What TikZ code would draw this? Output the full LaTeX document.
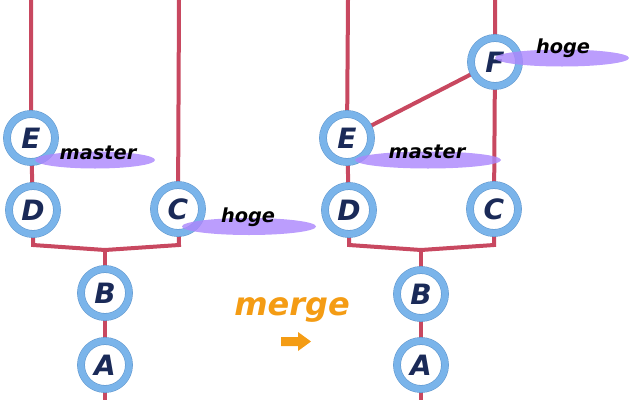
\documentclass[tikz,border=0pt]{standalone}
\usepackage{fontspec}
\usepackage{xcolor}
\usepackage{tikz}
\usetikzlibrary{backgrounds}
\newfontfamily\gitfont{DejaVu Sans}
\definecolor{branchred}{RGB}{200,72,96}
\definecolor{ringblue}{RGB}{122,180,234}
\definecolor{ringedge}{RGB}{95,150,205}
\definecolor{letterblue}{RGB}{26,42,88}
\definecolor{tagpurple}{RGB}{172,136,252}
\definecolor{mergeorange}{RGB}{244,156,20}

\begin{document}
\begin{tikzpicture}[x=0.75pt,y=0.75pt,yscale=-1,xscale=1,
  commit/.style={circle,draw=ringedge,line width=0.4pt,double=ringblue,double distance=5pt,fill=white,inner sep=0pt,minimum size=36pt,text=letterblue,font=\gitfont\bfseries\itshape\fontsize{21}{24}\selectfont},
  branch/.style={draw=branchred,line width=3pt},
  tagfill/.style={fill=tagpurple,opacity=0.82},
  tagtext/.style={inner sep=0pt,text=black,font=\gitfont\bfseries\itshape\fontsize{14.5}{17}\selectfont}]

\useasboundingbox (0,0) rectangle (640,400) ;

% left: before merge
\coordinate (ltopE) at (31,0) ;
\coordinate (ltopC) at (179,0) ;
\coordinate (lDc) at (33,245) ;
\coordinate (lCc) at (179,245) ;
\coordinate (ljoin) at (105,250) ;
\coordinate (lbot) at (105,400) ;

\node (lE) [commit] at (31,138) {E};
\node (lD) [commit] at (33,210) {D};
\node (lC) [commit] at (178,209) {C};
\node (lB) [commit] at (105,293) {B};
\node (lA) [commit] at (105,365) {A};

\begin{pgfonlayer}{background}
\draw [branch] (ltopE) -- (lE) -- (lD) -- (lDc) -- (ljoin) -- (lCc) -- (lC) -- (ltopC) ;
\draw [branch] (ljoin) -- (lB) -- (lA) -- (lbot) ;
\end{pgfonlayer}

\fill [tagfill] (95,160) ellipse (60 and 8.5) ;
\node (lmaster) [tagtext] at (98,153) {master};

\fill [tagfill] (249,226.5) ellipse (67 and 8.5) ;
\node (lhoge) [tagtext] at (248,217) {hoge};

% merge
\node (mergelabel) [inner sep=0pt,text=mergeorange,font=\gitfont\bfseries\itshape\fontsize{24}{28}\selectfont] at (292,310) {merge};

\fill [mergeorange] (281,337) -- (298,337) -- (298,332) -- (311,341.5) -- (298,351) -- (298,346) -- (281,346) -- cycle ;

% right: after merge
\coordinate (rtopE) at (348,0) ;
\coordinate (rtopF) at (495,0) ;
\coordinate (rDc) at (349,245) ;
\coordinate (rCc) at (494,245) ;
\coordinate (rjoin) at (421,250) ;
\coordinate (rbot) at (421,400) ;

\node (rF) [commit] at (495,62) {F};
\node (rE) [commit] at (347,138) {E};
\node (rD) [commit] at (349,210) {D};
\node (rC) [commit] at (494,209) {C};
\node (rB) [commit] at (421,294) {B};
\node (rA) [commit] at (421,365) {A};

\begin{pgfonlayer}{background}
\draw [branch] (rtopE) -- (rE) -- (rD) -- (rDc) -- (rjoin) -- (rCc) -- (rC) -- (rF) -- (rtopF) ;
\draw [branch] (rE) -- (rF) ;
\draw [branch] (rjoin) -- (rB) -- (rA) -- (rbot) ;
\end{pgfonlayer}

\fill [tagfill] (428,160) ellipse (73 and 8.5) ;
\node (rmaster) [tagtext] at (427,152) {master};

\fill [tagfill] (562,58) ellipse (67 and 8.5) ;
\node (rhoge) [tagtext] at (563,48) {hoge};

\end{tikzpicture}
\end{document}
